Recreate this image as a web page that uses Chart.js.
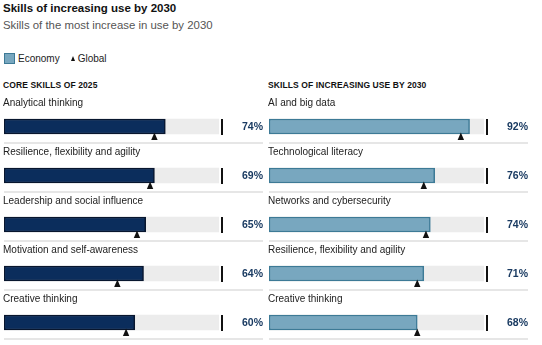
<!DOCTYPE html>
<html>
<head>
<meta charset="utf-8">
<script src="https://cdn.jsdelivr.net/npm/chart.js@4/dist/chart.umd.min.js"></script>
<style>
  html, body { margin: 0; padding: 0; background: #fff; overflow: hidden; }
  body { font-family: "Liberation Sans", Arial, Helvetica, sans-serif; }
  #wrap { position: relative; width: 542px; height: 345px; overflow: hidden; }
  .abs { position: absolute; white-space: nowrap; }
  #title { left: 3px; top: 2px; font-size: 11.5px; font-weight: bold; color: #111; }
  #subtitle { left: 3px; top: 19px; font-size: 11.4px; color: #555; }
  #legend { left: 4px; top: 53px; font-size: 10px; color: #222; display: flex; align-items: center; }
  .box { width: 9px; height: 9px; background: #78a7bf; border: 1px solid #3d7a96; margin-right: 3px; }
  .tri { width: 0; height: 0; border-left: 2.5px solid transparent; border-right: 2.5px solid transparent;
         border-bottom: 5px solid #111; margin: 0 3px 0 11px; }
  .section { top: 80px; font-size: 8.5px; font-weight: bold; color: #111; letter-spacing: 0.1px; }
  canvas { position: absolute; top: 90px; }
</style>
</head>
<body>
<div id="wrap">
  <div id="title" class="abs">Skills of increasing use by 2030</div>
  <div id="subtitle" class="abs">Skills of the most increase in use by 2030</div>
  <div id="legend" class="abs"><span class="box"></span>Economy<span class="tri"></span>Global</div>
  <div class="abs section" style="left:3px">CORE SKILLS OF 2025</div>
  <div class="abs section" style="left:268px">SKILLS OF INCREASING USE BY 2030</div>
  <canvas id="coreChart" width="265" height="257" style="left:0"></canvas>
  <canvas id="growthChart" width="265" height="257" style="left:265px"></canvas>
</div>
<script>
// core skills of 2025
const coreSkills = ["Analytical thinking", "Resilience, flexibility and agility", "Leadership and social influence",
  "Motivation and self-awareness", "Creative thinking"];
const coreEconomy = [74, 69, 65, 64, 60];
const coreGlobal = [69, 67, 61, 52, 56];

// skills of increasing use by 2030
const growthSkills = ["AI and big data", "Technological literacy", "Networks and cybersecurity",
  "Resilience, flexibility and agility", "Creative thinking"];
const growthEconomy = [92, 76, 74, 71, 68];
const growthGlobal = [88, 71, 72, 68, 68];

const trackEnd = 98.5;
const fontFamily = '"Liberation Sans", Arial, Helvetica, sans-serif';

const rowDecor = {
  id: "rowDecor",
  beforeDatasetsDraw(chart) {
    const ctx = chart.ctx;
    const x = chart.scales.x, y = chart.scales.y;
    ctx.save();
    chart.data.labels.forEach((label, i) => {
      const cy = y.getPixelForValue(i);
      // separator line
      ctx.strokeStyle = "#dedede";
      ctx.lineWidth = 1.5;
      ctx.beginPath();
      ctx.moveTo(x.left, cy + 16.5);
      ctx.lineTo(x.right + 41, cy + 16.5);
      ctx.stroke();
      // skill name
      ctx.fillStyle = "#222";
      ctx.font = "10px " + fontFamily;
      ctx.textBaseline = "middle";
      ctx.textAlign = "left";
      ctx.fillText(label, x.left - 1, cy - 23.5);
    });
    ctx.restore();
  },
  afterDatasetsDraw(chart) {
    const ctx = chart.ctx;
    const x = chart.scales.x, y = chart.scales.y;
    const opts = chart.options.plugins.rowDecor;
    ctx.save();
    chart.data.labels.forEach((label, i) => {
      const cy = y.getPixelForValue(i);
      // 100% tick
      const tx = x.getPixelForValue(100);
      ctx.fillStyle = "#111";
      ctx.fillRect(tx - 1, cy - 7.5, 2, 16);
      // global marker
      const gx = x.getPixelForValue(opts.global[i]);
      ctx.beginPath();
      ctx.moveTo(gx, cy + 6);
      ctx.lineTo(gx + 3.2, cy + 13.5);
      ctx.lineTo(gx - 3.2, cy + 13.5);
      ctx.closePath();
      ctx.fill();
      // value label
      ctx.fillStyle = "#1a3b62";
      ctx.font = "bold 10.5px " + fontFamily;
      ctx.textAlign = "right";
      ctx.textBaseline = "middle";
      ctx.fillText(chart.data.datasets[0].data[i] + "%", x.right + 41, cy + 1);
    });
    ctx.restore();
  }
};

function makeChart(id, labels, economy, global, fill, border) {
  return new Chart(document.getElementById(id), {
    type: "bar",
    data: {
      labels: labels,
      datasets: [
        {
          label: "Economy",
          data: economy,
          backgroundColor: fill,
          borderColor: border,
          borderWidth: 1.5,
          borderSkipped: false,
          barThickness: 15,
          grouped: false,
          order: 0
        },
        {
          label: "track",
          data: labels.map(() => trackEnd),
          backgroundColor: "#ececec",
          borderWidth: 0,
          barThickness: 15,
          grouped: false,
          order: 1
        }
      ]
    },
    options: {
      indexAxis: "y",
      responsive: false,
      animation: false,
      layout: { padding: { left: 4, right: 43, top: 12, bottom: 0 } },
      scales: {
        x: { display: false, min: 0, max: 100 },
        y: { display: false }
      },
      plugins: {
        legend: { display: false },
        tooltip: { enabled: false },
        rowDecor: { global: global }
      }
    },
    plugins: [rowDecor]
  });
}

makeChart("coreChart", coreSkills, coreEconomy, coreGlobal, "#0b2d5c", "#08162e");
makeChart("growthChart", growthSkills, growthEconomy, growthGlobal, "#78a7bf", "#3d7a96");
</script>
</body>
</html>
